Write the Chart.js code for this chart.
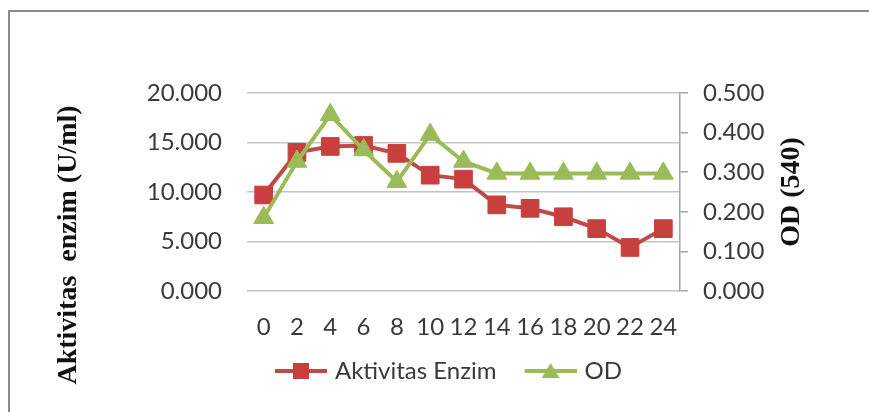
<!DOCTYPE html>
<html>
<head>
<meta charset="utf-8">
<script src="https://cdn.jsdelivr.net/npm/chart.js@4.4.1/dist/chart.umd.min.js"></script>
<style>
  html, body { margin: 0; padding: 0; background: #fff; }
  #wrap { position: relative; width: 869px; height: 412px; }
  #frame { position: absolute; left: 8px; top: 10px; right: 0; bottom: -10px;
           border-left: 2px solid #8a8a8a; border-top: 2px solid #8a8a8a; pointer-events: none; }
</style>
</head>
<body>
<div id="wrap">
  <canvas id="myChart" width="869" height="412"></canvas>
  <div id="frame"></div>
</div>
<script>
const hours = ["0", "2", "4", "6", "8", "10", "12", "14", "16", "18", "20", "22", "24"];
const aktivitasEnzim = [9.7, 14.0, 14.6, 14.7, 13.9, 11.7, 11.3, 8.7, 8.35, 7.5, 6.3, 4.4, 6.3];
const od = [0.185, 0.327, 0.445, 0.356, 0.276, 0.395, 0.327, 0.297, 0.297, 0.297, 0.297, 0.297, 0.297];
const leftTicks = [0, 5, 10, 15, 20];

const red = "#be4b48";
const redFill = "#c8403d";
const green = "#9bbb59";
const textColor = "#3a3a3a";
const tickFont = { family: "Lato", size: 24 };

// little line+marker picture for the legend
function legendIcon(color, fill, shape) {
  const c = document.createElement("canvas");
  c.width = 68;
  c.height = 22;
  const g = c.getContext("2d");
  g.strokeStyle = color;
  g.lineWidth = 4;
  g.beginPath();
  g.moveTo(16, 11);
  g.lineTo(68, 11);
  g.stroke();
  g.fillStyle = fill;
  if (shape === "rect") {
    g.fillRect(34, 3, 16, 16);
  } else {
    g.beginPath();
    g.moveTo(42, 3);
    g.lineTo(51, 18);
    g.lineTo(33, 18);
    g.closePath();
    g.fill();
  }
  return c;
}

const axisTitles = {
  id: "axisTitles",
  afterDraw(chart) {
    const ctx = chart.ctx;
    ctx.save();
    ctx.fillStyle = "#111";
    ctx.textAlign = "center";
    ctx.textBaseline = "middle";
    ctx.font = "bold 28px 'Liberation Serif'";
    ctx.translate(69, 245);
    ctx.rotate(-Math.PI / 2);
    ctx.fillText("Aktivitas  enzim (U/ml)", 0, 0);
    ctx.restore();

    ctx.save();
    ctx.fillStyle = "#111";
    ctx.textAlign = "center";
    ctx.textBaseline = "middle";
    ctx.font = "bold 28px 'Liberation Serif'";
    ctx.translate(792, 192);
    ctx.rotate(-Math.PI / 2);
    ctx.fillText("OD (540)", 0, 0);
    ctx.restore();
  },
};

new Chart("myChart", {
  type: "line",
  data: {
    labels: hours,
    datasets: [
      {
        label: "Aktivitas Enzim",
        data: aktivitasEnzim,
        yAxisID: "y",
        order: 1,
        borderColor: red,
        borderWidth: 4,
        pointStyle: "rect",
        pointRadius: 12.5,
        pointBackgroundColor: redFill,
        pointBorderColor: redFill,
        pointBorderWidth: 1,
        tension: 0,
      },
      {
        label: "OD",
        data: od,
        yAxisID: "y2",
        order: 0,
        borderColor: green,
        borderWidth: 4,
        pointStyle: "triangle",
        pointRadius: 11.5,
        pointBackgroundColor: green,
        pointBorderColor: green,
        pointBorderWidth: 1,
        tension: 0,
      },
    ],
  },
  options: {
    responsive: false,
    animation: false,
    layout: { padding: { top: 93, left: 16, right: 0, bottom: 19 } },
    plugins: {
      title: { display: false },
      tooltip: { enabled: false },
      legend: {
        position: "bottom",
        labels: {
          usePointStyle: true,
          pointStyleWidth: 60,
          padding: 16,
          color: textColor,
          font: tickFont,
          generateLabels(chart) {
            return chart.data.datasets.map((ds, i) => ({
              text: ds.label,
              datasetIndex: i,
              fontColor: textColor,
              pointStyle: legendIcon(ds.borderColor, ds.pointBackgroundColor, ds.pointStyle),
              lineWidth: 0,
              strokeStyle: "transparent",
              fillStyle: "transparent",
            }));
          },
        },
      },
    },
    scales: {
      x: {
        offset: true,
        grid: { display: false, drawTicks: false },
        border: { display: false },
        ticks: { color: textColor, font: tickFont, padding: 22, maxRotation: 0, autoSkip: false },
        afterFit(scale) { scale.height = 52; },
      },
      y: {
        position: "left",
        min: 0,
        max: 20,
        afterBuildTicks(scale) { scale.ticks = leftTicks.map((v) => ({ value: v })); },
        grid: { color: "#c4c4c4", lineWidth: 1.5, drawTicks: false },
        border: { display: false },
        ticks: {
          color: textColor,
          font: tickFont,
          padding: 25,
          callback: (v) => v.toFixed(3),
        },
        afterFit(scale) { scale.width = 231; },
      },
      y2: {
        position: "right",
        min: 0,
        max: 0.5,
        ticks: {
          stepSize: 0.1,
          color: textColor,
          font: tickFont,
          padding: 15,
          callback: (v) => v.toFixed(3),
        },
        grid: { drawOnChartArea: false, drawTicks: true, tickLength: 8, color: "#a6a6a6", lineWidth: 1.5 },
        border: { display: true, color: "#a6a6a6", width: 1.5 },
        afterFit(scale) { scale.width = 189; },
      },
    },
  },
  plugins: [axisTitles],
});
</script>
</body>
</html>
